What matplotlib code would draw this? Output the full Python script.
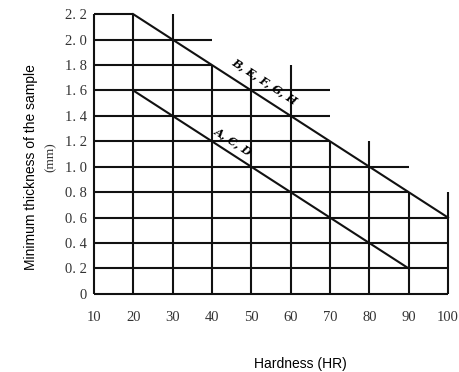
import matplotlib
matplotlib.use('Agg')
import matplotlib.pyplot as plt

# grid of the chart: every vertical line stops at its own height,
# every horizontal line stops at its own hardness
hardness = [10, 20, 30, 40, 50, 60, 70, 80, 90, 100]
vline_tops = [2.2, 2.2, 2.2, 1.8, 1.75, 1.8, 1.2, 1.2, 0.8, 0.8]
thickness = [0, 0.2, 0.4, 0.6, 0.8, 1.0, 1.2, 1.4, 1.6, 1.8, 2.0, 2.2]
hline_ends = [100, 100, 100, 100, 90, 90, 70, 70, 70, 40, 40, 20]
ytick_labels = ['0', '0. 2', '0. 4', '0. 6', '0. 8', '1. 0', '1. 2', '1. 4',
                '1. 6', '1. 8', '2. 0', '2. 2']

# the two limit lines
beh_hardness = [20, 100]
beh_thick = [2.2, 0.6]
acd_hardness = [20, 90]
acd_thick = [1.6, 0.2]

fig = plt.figure(figsize=(4.6, 3.72), dpi=100)
ax = fig.add_axes([0.204, 0.21, 0.77, 0.752])

ax.vlines(hardness, 0, vline_tops, colors='#111111', lw=1.5, clip_on=False)
ax.hlines(thickness, hardness[0], hline_ends, colors='#111111', lw=1.5, clip_on=False)
ax.plot(beh_hardness, beh_thick, color='#111111', lw=1.5, clip_on=False)
ax.plot(acd_hardness, acd_thick, color='#111111', lw=1.5, clip_on=False)

ax.text(53.5, 1.67, 'B, E, F, G, H', rotation=-33, ha='center', va='center',
        fontsize=8, fontweight='bold', fontstyle='italic', family='DejaVu Serif')
ax.text(45.5, 1.2, 'A, C, D', rotation=-33, ha='center', va='center',
        fontsize=8, fontweight='bold', fontstyle='italic', family='DejaVu Serif')

ax.set_xlim(10, 100)
ax.set_ylim(0, 2.2)
ax.set_xticks(hardness)
ax.set_xticklabels([str(h) for h in hardness], family='Liberation Serif',
                   fontsize=10.5, color='#333333')
ax.set_yticks(thickness)
ax.set_yticklabels(ytick_labels, family='Liberation Serif', fontsize=10.5,
                   color='#333333')
ax.tick_params(length=0)
ax.tick_params(axis='x', pad=12)
ax.tick_params(axis='y', pad=5)
for s in ax.spines.values():
    s.set_visible(False)

fig.text(0.068, 0.55, 'Minimum thickness of the sample', rotation=90,
         ha='center', va='center', family='Liberation Sans', fontsize=10)
fig.text(0.11, 0.578, '(mm)', rotation=90, ha='center', va='center',
         family='Liberation Serif', fontsize=9.5, color='#333333')
fig.text(0.652, 0.004, 'Hardness (HR)', ha='center', va='bottom',
         family='Liberation Sans', fontsize=10)

fig.savefig('out.png', dpi=100)
